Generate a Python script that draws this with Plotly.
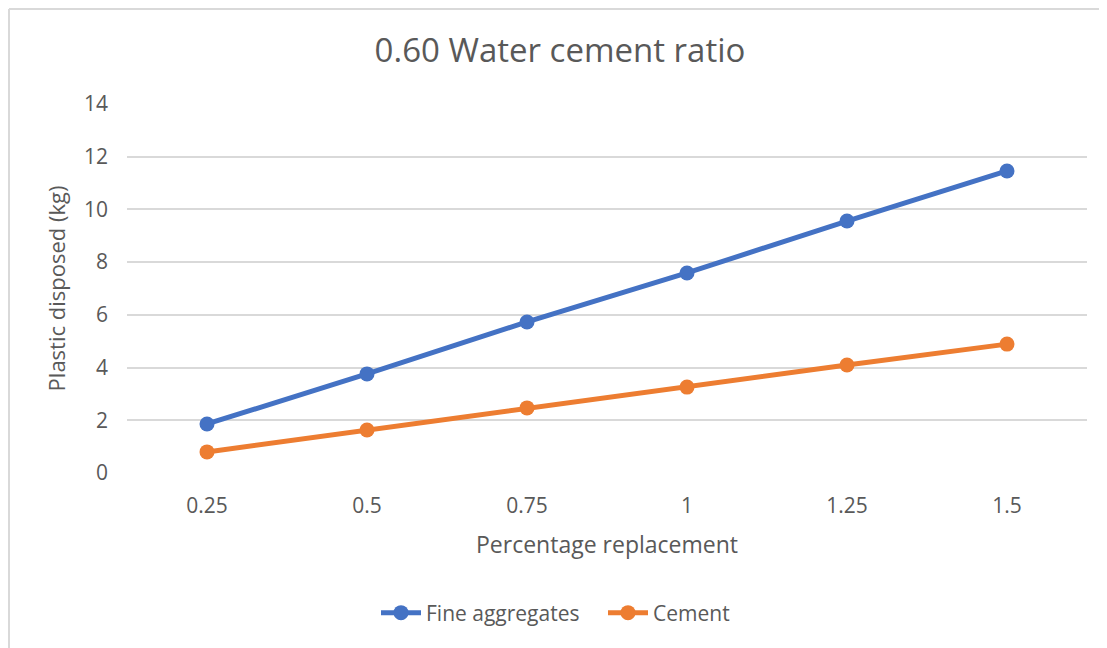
import plotly.graph_objects as go

categories = ["0.25", "0.5", "0.75", "1", "1.25", "1.5"]
fine_aggregates = [1.86, 3.76, 5.73, 7.59, 9.56, 11.46]
cement = [0.80, 1.63, 2.47, 3.26, 4.10, 4.89]
y_ticks = [0, 2, 4, 6, 8, 10, 12, 14]

FONT = "Open Sans"
TXT = "#595959"
GRID = "#d9d9d9"

fig = go.Figure()
fig.add_trace(go.Scatter(x=categories, y=fine_aggregates, name="Fine aggregates",
                         mode="lines+markers",
                         line=dict(color="#4472C4", width=5),
                         marker=dict(color="#4472C4", size=15)))
fig.add_trace(go.Scatter(x=categories, y=cement, name="Cement",
                         mode="lines+markers",
                         line=dict(color="#ED7D31", width=5),
                         marker=dict(color="#ED7D31", size=15)))

OFF = 8  # page body margin
W, H = 1107, 648
L, T = 127 - OFF, 104 - OFF
R = W - (1087 - OFF)
B = H - (473 - OFF)
pw, ph = W - L - R, H - T - B

bx = (1 - L) / pw
by = 1 + (T - 1) / ph

fig.update_layout(
    width=W, height=H,
    margin=dict(l=L, r=R, t=T, b=B),
    paper_bgcolor="white", plot_bgcolor="white",
    font=dict(family=FONT, color=TXT, size=20),
    title=dict(text="0.60 Water cement ratio", x=(560 - OFF) / W, xanchor="center",
               y=1 - (50 - OFF) / H, yanchor="middle",
               font=dict(family=FONT, size=33, color=TXT)),
    xaxis=dict(type="category", range=[-0.5, 5.5], showgrid=False, zeroline=False,
               showline=False, ticks="", ticklabelstandoff=18,
               tickfont=dict(size=21, color=TXT),
               title=dict(text="Percentage replacement", standoff=18,
                          font=dict(size=23, color=TXT))),
    yaxis=dict(range=[0, 14], tickvals=y_ticks, showgrid=True, gridcolor=GRID,
               gridwidth=2, zeroline=False, showline=False, ticks="",
               ticklabelstandoff=18,
               tickfont=dict(size=21, color=TXT),
               title=dict(text="Plastic disposed (kg)", standoff=12,
                          font=dict(size=22, color=TXT))),
    legend=dict(orientation="h", x=(603 - OFF - L) / pw, xanchor="center",
                y=-(613 - 473) / ph, yanchor="middle",
                font=dict(size=21, color=TXT), itemwidth=40, entrywidth=172),
    showlegend=True,
    shapes=[
        dict(type="line", xref="paper", yref="paper", x0=bx, x1=bx, y0=-1, y1=by,
             line=dict(color=GRID, width=2)),
        dict(type="line", xref="paper", yref="paper", x0=bx, x1=1.2, y0=by, y1=by,
             line=dict(color=GRID, width=2)),
    ],
)

fig.write_html("out.html")
